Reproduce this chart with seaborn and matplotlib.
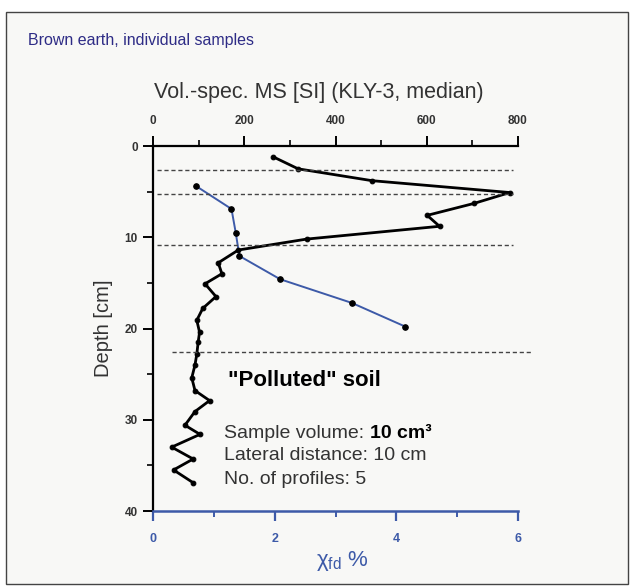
import matplotlib
matplotlib.use("Agg")
import matplotlib.pyplot as plt
import seaborn as sns
import pandas as pd
from matplotlib.ticker import MultipleLocator
from matplotlib.patches import Rectangle

# ---- data ----
ms_depth = [1.2, 2.5, 3.8, 5.1, 6.3, 7.6, 8.8, 10.2, 11.4, 12.8, 14.0, 15.1, 16.5,
            17.8, 19.1, 20.4, 21.5, 22.8, 24.0, 25.4, 26.8, 27.9, 29.1, 30.6, 31.6,
            33.0, 34.3, 35.5, 36.9]
ms_values = [264, 318, 480, 782, 703, 601, 628, 337, 187, 143, 151, 114, 138,
             109, 96, 102, 99, 96, 92, 85, 92, 124, 92, 70, 103,
             41, 88, 45, 88]
chi_depth = [4.4, 6.9, 9.5, 12.05, 14.6, 17.2, 19.8]
chi_values = [0.71, 1.29, 1.36, 1.42, 2.09, 3.27, 4.15]
boundary_depths = [2.6, 5.3, 10.9, 22.6]
ms_ticks = [0, 200, 400, 600, 800]
chi_ticks = [0, 2, 4, 6]
depth_ticks = [0, 10, 20, 30, 40]

df_ms = pd.DataFrame({"ms": ms_values, "depth": ms_depth})
df_chi = pd.DataFrame({"chi": chi_values, "depth": chi_depth})

sns.set_theme(style="white")
plt.rcParams["font.family"] = ["Liberation Sans", "DejaVu Sans"]
plt.rcParams["mathtext.fontset"] = "custom"
plt.rcParams["mathtext.rm"] = "Liberation Sans"
plt.rcParams["mathtext.it"] = "Liberation Sans:italic"

BLUE = "#3d5aa8"
TXT = "#333333"

fig = plt.figure(figsize=(6.3, 5.88), dpi=100)
fig.patch.set_facecolor("white")
frame = Rectangle((6 / 630, 1 - 584 / 588), 622 / 630, 572 / 588,
                  transform=fig.transFigure, facecolor="#f8f8f6",
                  edgecolor="#444444", linewidth=1.0, zorder=-10)
fig.add_artist(frame)

ax = fig.add_axes([153 / 630, 1 - 511 / 588, 365 / 630, 365 / 588])
ax.set_facecolor("none")
ax2 = ax.twiny()
ax2.set_facecolor("none")

# blue chi_fd line (bottom axis)
sns.lineplot(data=df_chi, x="chi", y="depth", sort=False, estimator=None, ax=ax,
             color=BLUE, linewidth=1.4, marker="o", markersize=4.0,
             markerfacecolor="black", markeredgecolor="black")
# black MS line (top axis)
sns.lineplot(data=df_ms, x="ms", y="depth", sort=False, estimator=None, ax=ax2,
             color="black", linewidth=2.0, marker="o", markersize=3.4,
             markerfacecolor="black", markeredgecolor="black")

# dashed horizon boundaries
for i, d in enumerate(boundary_depths):
    x0, x1 = (8, 790) if i < 3 else (42, 830)
    ax2.plot([x0, x1], [d, d], ls=(0, (3, 2)), color="#444444", lw=1.0, clip_on=False)

ax.set_xlim(0, 6)
ax2.set_xlim(0, 800)
ax.set_ylim(40, 0)
ax2.set_ylim(40, 0)

# spines
for s in ["top", "right"]:
    ax.spines[s].set_visible(False)
for s in ["bottom", "right", "left"]:
    ax2.spines[s].set_visible(False)
ax.spines["left"].set_color("black")
ax.spines["left"].set_linewidth(1.6)
ax.spines["bottom"].set_color(BLUE)
ax.spines["bottom"].set_linewidth(1.8)
ax2.spines["top"].set_color("black")
ax2.spines["top"].set_linewidth(1.6)

# ticks
ax.set_xticks(chi_ticks)
ax.xaxis.set_minor_locator(MultipleLocator(1))
ax.set_yticks(depth_ticks)
ax.yaxis.set_minor_locator(MultipleLocator(5))
ax.tick_params(axis="x", which="major", direction="out", length=7, width=1.6,
               color=BLUE, labelcolor=BLUE, labelsize=9, pad=9, bottom=True)
ax.tick_params(axis="x", which="minor", direction="out", length=4, width=1.4,
               color=BLUE, bottom=True)
ax.tick_params(axis="y", which="major", direction="out", length=7, width=1.4,
               color="black", labelcolor=TXT, labelsize=8.5, pad=4, left=True)
ax.tick_params(axis="y", which="minor", direction="out", length=4, width=1.2,
               color="black", left=True)
for lab in ax.get_xticklabels() + ax.get_yticklabels():
    lab.set_fontweight("bold")

ax2.set_xticks(ms_ticks)
ax2.xaxis.set_minor_locator(MultipleLocator(100))
ax2.tick_params(axis="x", which="major", direction="out", length=7, width=1.4,
                color="black", labelcolor=TXT, labelsize=8.5, pad=7, top=True)
ax2.tick_params(axis="x", which="minor", direction="out", length=4, width=1.2,
                color="black", top=True)
for lab in ax2.get_xticklabels():
    lab.set_fontweight("bold")
ax2.tick_params(axis="y", left=False, right=False, labelleft=False, labelright=False)

ax.set_xlabel("χ$_{\\mathrm{fd}}$ %", color=BLUE, fontsize=16, labelpad=3)
ax.xaxis.label.set_x(0.52)
ax.set_ylabel("Depth [cm]", color=TXT, fontsize=14.5, labelpad=8)
ax2.set_xlabel("Vol.-spec. MS [SI] (KLY-3, median)", color=TXT, fontsize=15.5, labelpad=12)
ax2.xaxis.label.set_x(0.455)

# annotations
fig.text(28 / 630, 1 - 40 / 588, "Brown earth, individual samples",
         color="#2e2c86", fontsize=11.5, va="center", ha="left")
fig.text(228 / 630, 1 - 381 / 588, '"Polluted" soil', color="black",
         fontsize=16, fontweight="bold", va="center", ha="left")
t1 = fig.text(224 / 630, 1 - 433 / 588, "Sample volume: ", color=TXT,
              fontsize=14, va="center", ha="left")
fig.canvas.draw()
bb = t1.get_window_extent()
fig.text(bb.x1 / 630, 1 - 433 / 588, "10 cm³", color="black",
         fontsize=14, fontweight="bold", va="center", ha="left")
fig.text(224 / 630, 1 - 456 / 588, "Lateral distance: 10 cm", color=TXT,
         fontsize=14, va="center", ha="left")
fig.text(224 / 630, 1 - 479 / 588, "No. of profiles: 5", color=TXT,
         fontsize=14, va="center", ha="left")

fig.savefig("out.png", dpi=100)
